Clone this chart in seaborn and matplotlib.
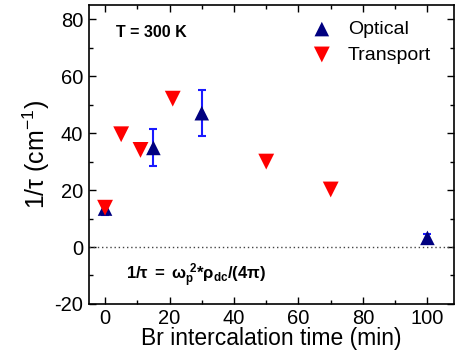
import numpy as np
import pandas as pd
import seaborn as sns
import matplotlib.pyplot as plt
from matplotlib.ticker import MultipleLocator

# optical scattering rate
opt_time = [0, 15, 30, 100]
opt_rate = [13.5, 34.8, 47.0, 3.2]
opt_err = [2.3, 6.5, 8.0, 1.5]

# transport scattering rate
tr_time = [0, 5, 11, 21, 50, 70]
tr_rate = [13.8, 39.6, 34.1, 52.1, 30.0, 20.2]

opt_df = pd.DataFrame({'time': opt_time, 'rate': opt_rate})
tr_df = pd.DataFrame({'time': tr_time, 'rate': tr_rate})

sns.set_style('ticks')
plt.rcParams['font.family'] = ['Liberation Sans', 'DejaVu Sans']
plt.rcParams['mathtext.fontset'] = 'custom'
plt.rcParams['mathtext.rm'] = 'Liberation Sans'
plt.rcParams['mathtext.it'] = 'Liberation Sans'
plt.rcParams['mathtext.bf'] = 'Liberation Sans:bold'
plt.rcParams['axes.unicode_minus'] = False
for k in ['text.color', 'axes.labelcolor', 'xtick.color', 'ytick.color', 'axes.edgecolor']:
    plt.rcParams[k] = 'black'

fig = plt.figure(figsize=(4.56, 3.58), dpi=100)
ax = fig.add_axes([0.195, 0.151, 0.801, 0.835])

ax.axhline(0, color='#444444', ls=(0, (1, 2)), lw=1, zorder=1)

ax.errorbar(opt_time, opt_rate, yerr=opt_err, fmt='none', ecolor='#1a1aff',
            elinewidth=1.5, capsize=3, capthick=1.5, zorder=2)
sns.scatterplot(data=opt_df, x='time', y='rate', marker='^', s=110,
                color='#000080', edgecolor='none', label='Optical', ax=ax, zorder=3)
sns.scatterplot(data=tr_df, x='time', y='rate', marker='v', s=130,
                color='#ff0000', edgecolor='none', label='Transport', ax=ax, zorder=4)

ax.set_xlim(-5, 108.3)
ax.set_ylim(-20, 85)
ax.xaxis.set_major_locator(MultipleLocator(20))
ax.xaxis.set_minor_locator(MultipleLocator(10))
ax.yaxis.set_major_locator(MultipleLocator(20))
ax.yaxis.set_minor_locator(MultipleLocator(10))
ax.tick_params(which='both', direction='in', top=True, right=True, width=1)
ax.tick_params(which='major', length=5, labelsize=14.5, pad=4)
ax.tick_params(which='minor', length=3)
for s in ax.spines.values():
    s.set_linewidth(1.2)

ax.set_xlabel('Br intercalation time (min)', fontsize=16.5, labelpad=-1)
ax.set_ylabel('1/τ (cm$^{-1}$)', fontsize=18, labelpad=2)

ax.text(3.4, 75.4, 'T = 300 K', fontsize=11.5, fontweight='bold', va='center')
ax.text(6.5, -10.2, r'$\mathbf{1/\tau\ =\ \omega_p^{\ 2}{*}\rho_{dc}/(4\pi)}$',
        fontsize=12, va='center')

leg = ax.legend(loc='upper right', bbox_to_anchor=(0.98, 1.0), frameon=False,
                fontsize=14, handletextpad=0.35, labelspacing=0.4, borderpad=0.3,
                markerscale=1.0)

fig.savefig('out.png', dpi=100)
